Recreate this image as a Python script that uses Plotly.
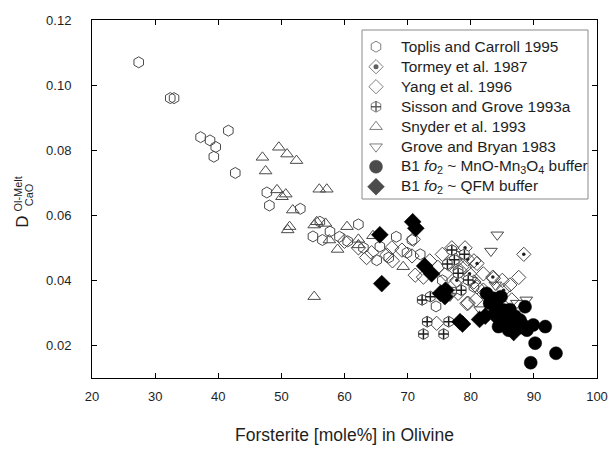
import plotly.graph_objects as go

# Forsterite content (mole%) and CaO olivine/melt partition coefficients
toplis_fo = [27.4, 32.4, 33.0, 37.2, 38.7, 39.6, 39.3, 41.6, 42.7, 47.7, 48.1, 53.0, 56.1,
             56.5, 57.7, 59.2, 62.2, 65.6, 65.1, 68.2, 69.9, 70.7, 72.0, 74.5, 55.0, 60.5,
             63.0, 75.5, 78.0, 67.0, 73.0, 80.5]
toplis_d = [0.107, 0.096, 0.096, 0.084, 0.083, 0.081, 0.078, 0.086, 0.073, 0.067, 0.063, 0.062, 0.058,
            0.0524, 0.055, 0.0534, 0.0572, 0.0504, 0.0462, 0.0534, 0.0485, 0.0524, 0.048, 0.032, 0.0535, 0.052,
            0.050, 0.040, 0.043, 0.047, 0.044, 0.038]

tormey_fo = [77.0, 79.1, 77.8, 79.5, 81.0, 76.5, 78.3, 79.8, 77.8, 80.5, 88.4, 83.5, 85.2, 82.0, 84.0]
tormey_d = [0.050, 0.050, 0.047, 0.0465, 0.0452, 0.045, 0.043, 0.042, 0.040, 0.0395, 0.048, 0.041, 0.037, 0.037, 0.034]

yang_fo = [62.2, 64.3, 63.5, 66.7, 67.5, 67.6, 69.1, 70.7, 70.9, 71.2, 72.5, 73.5, 74.8, 75.5, 76.0,
           77.5, 79.0, 80.5, 81.0, 82.0, 83.6, 86.2, 87.6, 85.0, 79.4, 79.6, 80.8, 74.6, 60.0, 78.0,
           84.5, 86.5]
yang_d = [0.050, 0.0485, 0.047, 0.0478, 0.050, 0.046, 0.0493, 0.0475, 0.0526, 0.0416, 0.041, 0.046, 0.044, 0.048, 0.042,
          0.039, 0.044, 0.046, 0.038, 0.042, 0.0406, 0.0386, 0.0409, 0.040, 0.0329, 0.033, 0.034, 0.0268, 0.052, 0.036,
          0.031, 0.034]

sisson_fo = [77.0, 77.4, 78.0, 79.6, 78.5, 76.3, 79.0, 72.3, 73.6, 73.1, 76.5, 72.5, 75.7]
sisson_d = [0.0493, 0.0463, 0.0422, 0.0401, 0.037, 0.045, 0.048, 0.034, 0.035, 0.0273, 0.0273, 0.0235, 0.0235]

snyder_fo = [47.0, 47.5, 49.6, 50.9, 52.4, 49.3, 50.7, 50.1, 51.8, 56.0, 57.2, 51.3, 51.0, 55.6, 55.2,
             57.0, 57.6, 58.9, 60.4, 62.2, 62.2, 64.5, 69.3, 55.2]
snyder_d = [0.0778, 0.0736, 0.0809, 0.0788, 0.0768, 0.0678, 0.0665, 0.0657, 0.0616, 0.068, 0.068, 0.0565, 0.0555, 0.058, 0.057,
            0.0575, 0.0524, 0.0495, 0.0565, 0.0526, 0.0509, 0.0537, 0.0442, 0.035]

grove_fo = [84.2, 83.2, 88.8, 87.3, 76.7, 83.9, 80.0, 78.5, 77.5, 81.5]
grove_d = [0.054, 0.049, 0.034, 0.033, 0.0352, 0.0386, 0.040, 0.048, 0.037, 0.031]

mno_fo = [88.6, 83.6, 84.1, 85.2, 86.2, 84.4, 86.0, 86.2, 87.8, 88.9, 89.9, 91.8, 90.2, 93.5, 89.5,
          82.5, 83.0, 85.5, 87.0, 88.0, 84.8]
mno_d = [0.0319, 0.0345, 0.0324, 0.0309, 0.031, 0.0258, 0.0247, 0.0273, 0.0278, 0.0247, 0.0263, 0.0258, 0.0207, 0.0176, 0.0147,
         0.036, 0.033, 0.028, 0.029, 0.0255, 0.035]

qfm_fo = [65.6, 65.9, 70.8, 71.3, 72.7, 73.8, 75.2, 75.9, 78.3, 78.7, 81.4, 82.3, 84.5, 85.5, 86.8, 88.0, 83.8, 76.0]
qfm_d = [0.054, 0.039, 0.058, 0.056, 0.0444, 0.042, 0.036, 0.035, 0.0273, 0.0266, 0.028, 0.029, 0.028, 0.026, 0.024, 0.027, 0.030, 0.037]

x_ticks = [20, 30, 40, 50, 60, 70, 80, 90, 100]
y_ticks = [0.02, 0.04, 0.06, 0.08, 0.10, 0.12]

names = ["Toplis and Carroll 1995", "Tormey et al. 1987", "Yang et al. 1996",
         "Sisson and Grove 1993a", "Snyder et al. 1993", "Grove and Bryan 1983",
         "B1 <i>fo</i><sub>2</sub> ~ MnO-Mn<sub>3</sub>O<sub>4</sub> buffer",
         "B1 <i>fo</i><sub>2</sub> ~ QFM buffer"]

OPEN = "#4a4a4a"
INK = "#1e1e1e"
FONT = "Liberation Sans, Arial, sans-serif"

# marker style per series, in legend order
styles = [
    dict(symbol="hexagon-open", size=11, color=OPEN),
    dict(symbol="diamond-open", size=11, color=OPEN),
    dict(symbol="diamond-open", size=11, color=OPEN),
    dict(symbol="hexagon", size=11, color="white"),
    dict(symbol="triangle-up-open", size=11, color=OPEN),
    dict(symbol="triangle-down-open", size=11, color=OPEN),
    dict(symbol="circle", size=13, color="black"),
    dict(symbol="diamond", size=13, color="black"),
]

fig = go.Figure()


def series(x, y, i, **kw):
    st = styles[i]
    return go.Scatter(x=x, y=y, mode="markers", name=names[i], showlegend=False,
                      marker=dict(symbol=st["symbol"], size=st["size"], color=st["color"],
                                  line=dict(color="black" if st["color"] == "black" else OPEN,
                                            width=0.5 if st["color"] == "black" else 1)), **kw)


fig.add_trace(series(snyder_fo, snyder_d, 4))
fig.add_trace(series(toplis_fo, toplis_d, 0))
fig.add_trace(series(yang_fo, yang_d, 2))
fig.add_trace(series(grove_fo, grove_d, 5))
fig.add_trace(series(tormey_fo, tormey_d, 1))
fig.add_trace(go.Scatter(x=tormey_fo, y=tormey_d, mode="markers", showlegend=False, hoverinfo="skip",
                         marker=dict(symbol="circle", size=3.5, color=INK)))
fig.add_trace(series(sisson_fo, sisson_d, 3))
fig.add_trace(go.Scatter(x=sisson_fo, y=sisson_d, mode="markers", showlegend=False, hoverinfo="skip",
                         marker=dict(symbol="cross-thin-open", size=7, color=INK,
                                     line=dict(color=INK, width=1.5))))
fig.add_trace(series(qfm_fo, qfm_d, 7))
fig.add_trace(series(mno_fo, mno_d, 6))

# legend key: glyphs on an overlay axis spanning the plot area (0..1 both ways)
row_y = [(378 - (46.7 + 20 * i)) / 358 for i in range(len(names))]
key_x = (376 - 92) / 505
fig.add_trace(go.Scatter(
    x=[key_x] * len(names), y=row_y, xaxis="x2", yaxis="y2", mode="markers",
    showlegend=False, hoverinfo="skip",
    marker=dict(symbol=[s["symbol"] for s in styles], size=[s["size"] for s in styles],
                color=[s["color"] for s in styles],
                line=dict(color=["black" if s["color"] == "black" else OPEN for s in styles],
                          width=[0.5 if s["color"] == "black" else 1 for s in styles]))))
fig.add_trace(go.Scatter(
    x=[key_x, key_x], y=[row_y[1], row_y[3]], xaxis="x2", yaxis="y2", mode="markers",
    showlegend=False, hoverinfo="skip",
    marker=dict(symbol=["circle", "cross-thin-open"], size=[3.5, 7], color=INK,
                line=dict(color=INK, width=1.5))))
for i, nm in enumerate(names):
    fig.add_annotation(text=nm, xref="x2", yref="y2", x=(399 - 92) / 505, y=row_y[i],
                       xanchor="left", yanchor="middle", showarrow=False,
                       font=dict(family=FONT, size=15.4, color=INK))
fig.add_shape(type="rect", xref="x2", yref="y2",
              x0=(362 - 92) / 505, x1=(588 - 92) / 505,
              y0=(378 - 199) / 358, y1=(378 - 30) / 358,
              line=dict(color="#8a8a8a", width=1), layer="below")

axis_common = dict(showline=True, linecolor="black", linewidth=1, mirror="ticks",
                   ticks="inside", ticklen=5, tickcolor="black", tickwidth=1,
                   showgrid=False, zeroline=False, automargin=False,
                   tickfont=dict(family=FONT, size=13, color=INK))

fig.update_xaxes(range=[20, 100], tickvals=x_ticks, ticklabelstandoff=6,
                 title=dict(text="Forsterite [mole%] in Olivine",
                            font=dict(family=FONT, size=17.5, color=INK), standoff=26),
                 **axis_common)
fig.update_yaxes(range=[0.01, 0.12], tickvals=y_ticks, tickformat=".2f",
                 ticklabelstandoff=17, **axis_common)

# stacked super/subscript axis title, rotated
ytitle = [("D", 17, -0.137, 0.436), ("Ol-Melt", 11, -0.146, 0.513), ("CaO", 11, -0.125, 0.513)]
for txt, sz, px, py in ytitle:
    fig.add_annotation(text=txt, xref="paper", yref="paper", x=px, y=py,
                       showarrow=False, textangle=-90, xanchor="center", yanchor="middle",
                       font=dict(family=FONT, size=sz, color=INK))

fig.update_layout(
    width=615, height=453,
    margin=dict(l=92, r=18, t=20, b=75),
    plot_bgcolor="white", paper_bgcolor="white",
    font=dict(family=FONT, color=INK),
    showlegend=False,
    xaxis2=dict(overlaying="x", range=[0, 1], visible=False, fixedrange=True),
    yaxis2=dict(overlaying="y", range=[0, 1], visible=False, fixedrange=True),
)

fig.write_html("out.html")
